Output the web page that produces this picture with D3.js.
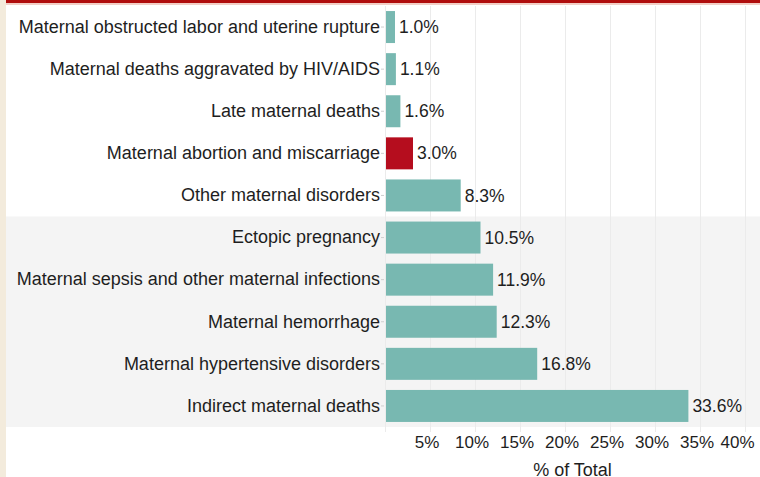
<!DOCTYPE html>
<html>
<head>
<meta charset="utf-8">
<script src="https://cdn.jsdelivr.net/npm/d3@7"></script>
<style>
  body { margin: 0; background: #fff; }
  svg { display: block; font-family: "Liberation Sans", Arial, sans-serif; }
</style>
</head>
<body>
<svg width="760" height="477"></svg>
<script>
// categories, top to bottom
const causes = [
  "Maternal obstructed labor and uterine rupture",
  "Maternal deaths aggravated by HIV/AIDS",
  "Late maternal deaths",
  "Maternal abortion and miscarriage",
  "Other maternal disorders",
  "Ectopic pregnancy",
  "Maternal sepsis and other maternal infections",
  "Maternal hemorrhage",
  "Maternal hypertensive disorders",
  "Indirect maternal deaths"
];
const shares = [1.0, 1.1, 1.6, 3.0, 8.3, 10.5, 11.9, 12.3, 16.8, 33.6];
const highlighted = "Maternal abortion and miscarriage";
const xTicks = [5, 10, 15, 20, 25, 30, 35, 40];
const xTitle = "% of Total";

const data = causes.map((c, i) => ({ cause: c, value: shares[i] }));

const svg = d3.select("svg");
const W = 760, H = 477;
const FONT = "Liberation Sans, Arial, sans-serif";

// frame bits: beige left strip, red header strip
svg.append("rect").attr("x", 0).attr("y", 0).attr("width", 6).attr("height", H).attr("fill", "#f3ebdc");
svg.append("rect").attr("x", 6).attr("y", 0).attr("width", W - 6).attr("height", 3).attr("fill", "#b00d0d");
svg.append("rect").attr("x", 6).attr("y", 3).attr("width", W - 6).attr("height", 2).attr("fill", "#f2cfc6");

const x = d3.scaleLinear().domain([0, 40]).range([385, 745]);
const y = d3.scaleBand().domain(causes).range([6, 427]).paddingInner(0.24).paddingOuter(0.12);
const step = y.step();

// lower half shaded band
const bandTop = y(causes[5]) - y.paddingInner() * step / 2;
svg.append("rect")
  .attr("x", 6).attr("y", bandTop)
  .attr("width", W - 6).attr("height", 427 - bandTop)
  .attr("fill", "#f4f4f4");

// vertical gridlines
svg.append("g").selectAll("line")
  .data([0].concat(xTicks))
  .join("line")
  .attr("x1", d => x(d) + 0.5).attr("x2", d => x(d) + 0.5)
  .attr("y1", 6).attr("y2", 432)
  .attr("stroke", "#ebebeb").attr("stroke-width", 1);

// bars
svg.append("g").selectAll("rect")
  .data(data)
  .join("rect")
  .attr("x", x(0) + 1)
  .attr("y", d => y(d.cause))
  .attr("width", d => x(d.value) - x(0))
  .attr("height", y.bandwidth())
  .attr("fill", d => d.cause === highlighted ? "#b50d1e" : "#78b8b1");

// value labels
svg.append("g").selectAll("text")
  .data(data)
  .join("text")
  .attr("x", d => x(d.value) + 5)
  .attr("y", d => y(d.cause) + y.bandwidth() / 2)
  .attr("dy", "0.35em")
  .attr("font-size", 17.5)
  .attr("font-family", FONT)
  .attr("fill", "#1e1e1e")
  .text(d => d.value.toFixed(1) + "%");

// category axis
const yAxis = svg.append("g")
  .attr("transform", "translate(384,0)")
  .call(d3.axisLeft(y).tickSize(3).tickPadding(1));
yAxis.select(".domain").remove();
yAxis.selectAll(".tick line").attr("stroke", "#cfcfcf");
yAxis.selectAll(".tick text").attr("font-size", 18).attr("fill", "#1e1e1e").attr("font-family", FONT);

// value axis
const xAxis = svg.append("g")
  .attr("transform", "translate(0,432)")
  .call(d3.axisBottom(x).tickValues(xTicks).tickSize(0).tickPadding(4).tickFormat(d => d + "%"));
xAxis.select(".domain").remove();
xAxis.selectAll(".tick text")
  .attr("font-size", 17).attr("fill", "#1e1e1e").attr("font-family", FONT)
  .attr("dy", "0.71em")
  .attr("dx", d => d === 40 ? -8 : -3.5);

svg.append("text")
  .attr("x", (385 + W) / 2).attr("y", 476)
  .attr("text-anchor", "middle")
  .attr("font-size", 18).attr("fill", "#1e1e1e").attr("font-family", FONT)
  .text(xTitle);
</script>
</body>
</html>
